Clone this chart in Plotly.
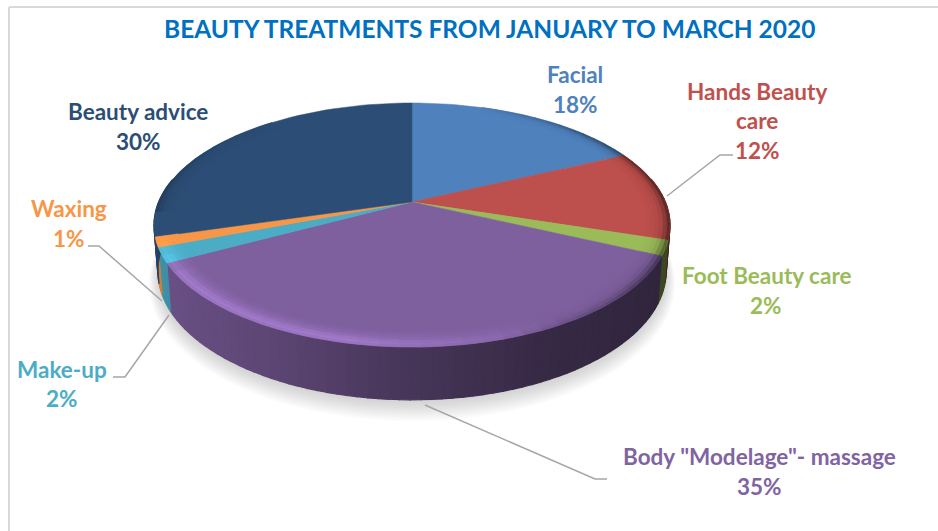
import math
import plotly.graph_objects as go

# ---- data ----
categories = ["Facial", "Hands Beauty care", "Foot Beauty care",
              'Body "Modelage"- massage', "Make-up", "Waxing", "Beauty advice"]
values = [18, 12, 2, 35.3, 2, 1.3, 29.6]
title_text = "BEAUTY TREATMENTS FROM JANUARY TO MARCH 2020"

# ---- styles ----
slice_colors = ["#4F81BD", "#BD4F4C", "#9BBB59", "#7F609F", "#4BACC6", "#F79646", "#2C4D75"]
label_colors = ["#4F81BD", "#C0504D", "#9BBB59", "#8064A2", "#4BACC6", "#F79646", "#2C4D75"]
label_lines = [["Facial"], ["Hands Beauty", "care"], ["Foot Beauty care"],
               ['Body "Modelage"- massage'], ["Make-up"], ["Waxing"], ["Beauty advice"]]
label_xy = [(575, 74, 30), (757, 91, 29.5), (766, 275, 30), (759, 456, 30),
            (62, 369, 29), (69, 208, 30), (138, 111, 30)]
leaders = [[(667, 196), (720, 155), (733, 155)],
           [(88, 246), (99, 246), (162, 301)],
           [(113, 377), (125, 377), (169, 315)],
           [(425, 405), (595, 479), (607, 479)]]

# ---- projection of the tilted pie ----
CX, CY, K, A, B = 412, 202, 0.1885, 253.4, 117.7
BOT_Y, BOT_A, BOT_B = 247, 0.985 * A, 124


def top(theta, r=1.0):
    u, v = r * math.sin(theta), r * math.cos(theta)
    d = 1 + K * v
    return CX + A * u / d, CY - B * v / d


def bottom(theta, grow=0.0, dy=0.0):
    u, v = math.sin(theta), math.cos(theta)
    d = 1 + K * v
    return CX + (BOT_A + grow) * u / d, BOT_Y + dy - (BOT_B + grow) * v / d


def hex2rgb(c):
    return [int(c[i:i + 2], 16) for i in (1, 3, 5)]


def shade(c, f):
    return "rgb(%d,%d,%d)" % tuple(max(0, min(255, round(x * f))) for x in hex2rgb(c))


def lerp_table(x, table):
    for (x0, y0), (x1, y1) in zip(table, table[1:]):
        if x <= x1:
            return y0 + (y1 - y0) * (x - x0) / (x1 - x0)
    return table[-1][1]


def side_factor(theta):
    return lerp_table(math.sin(theta), [(-1, .86), (-.5, .74), (0, .55), (.5, .42), (1, .38)])


def light_amount(theta):
    """Highlight strength along the front-left rim."""
    u, v = math.sin(theta), math.cos(theta)
    w = max(0.0, min(1.0, (-0.25 - v) / 0.3))
    return w * lerp_table(u, [(-1, .18), (-.8, .26), (-.2, .26), (.25, .1), (.5, 0), (1, 0)])


def dark_amount(theta):
    """Darkening at the extreme left and right of the rim."""
    u, v = math.sin(theta), math.cos(theta)
    right = lerp_table(u, [(-1, 0), (.3, 0), (.6, .25), (.85, .5), (1, .6)])
    left = lerp_table(u, [(-1, .22), (-.85, .08), (-.6, 0), (1, 0)])
    return right + (left if v > -0.1 else 0)


fig = go.Figure()


def poly(pts, color, opacity=1.0, line=0.7):
    xs = [p[0] for p in pts] + [pts[0][0]]
    ys = [p[1] for p in pts] + [pts[0][1]]
    fig.add_trace(go.Scatter(x=xs, y=ys, mode="lines", fill="toself", fillcolor=color,
                             line=dict(color=color, width=line), opacity=opacity,
                             hoverinfo="skip", showlegend=False))


# soft shadow under the pie
circle = [2 * math.pi * i / 180 for i in range(180)]
for step in range(12, 0, -1):
    poly([bottom(t, grow=step * 0.9 - 2, dy=2 + step * 0.7) for t in circle],
         "rgb(120,120,120)", opacity=0.03, line=0)

total = sum(values)
bounds = [0.0]
for val in values:
    bounds.append(bounds[-1] + val / total * 2 * math.pi)
spans = list(zip(bounds[:-1], bounds[1:]))

# side wall
STEP = math.radians(2)
for (a0, a1), col in zip(spans, slice_colors):
    n = max(1, math.ceil((a1 - a0) / STEP))
    for i in range(n):
        t0, t1 = a0 + (a1 - a0) * i / n, a0 + (a1 - a0) * (i + 1) / n
        tm = (t0 + t1) / 2
        if math.cos(tm) > 0.2:
            continue
        poly([top(t0), top(t1), bottom(t1), bottom(t0)], shade(col, side_factor(tm)), line=1.2)

# top faces
for (a0, a1), col in zip(spans, slice_colors):
    n = max(2, math.ceil((a1 - a0) / math.radians(2)))
    arc = [top(a0 + (a1 - a0) * i / n) for i in range(n + 1)]
    poly([(CX, CY)] + arc, col, line=0.5)

# soft bevel along the rim: (inner r, outer r, highlight weight, darkening weight)
BANDS = [(0.915, 0.93, .1, .02), (0.93, 0.945, .25, .05), (0.945, 0.96, .45, .1),
         (0.96, 0.975, .8, .2), (0.975, 0.99, 1.0, .45), (0.99, 1.0, .85, .8)]
for (a0, a1), col in zip(spans, slice_colors):
    n = max(1, math.ceil((a1 - a0) / math.radians(4)))
    for i in range(n):
        t0, t1 = a0 + (a1 - a0) * i / n, a0 + (a1 - a0) * (i + 1) / n
        tm = (t0 + t1) / 2
        li, da = light_amount(tm), dark_amount(tm)
        if li < 0.005 and da < 0.005:
            continue
        for r0, r1, wl, wd in BANDS:
            poly([top(t0, r0), top(t1, r0), top(t1, r1), top(t0, r1)],
                 shade(col, (1 + li * wl) * (1 - da * wd)), line=0.5)

# leader lines
for pts in leaders:
    fig.add_trace(go.Scatter(x=[p[0] for p in pts], y=[p[1] for p in pts], mode="lines",
                             line=dict(color="#A6A6A6", width=1.5),
                             hoverinfo="skip", showlegend=False))

# labels
FONT = "Lato"
annotations = [dict(x=489, y=28.5, text="<b>%s</b>" % title_text, showarrow=False,
                    font=dict(family=FONT, size=24.5, color="#0070C0"),
                    xref="x", yref="y", xanchor="center", yanchor="middle")]
for lines, val, (lx, ly, gap), col in zip(label_lines, values, label_xy, label_colors):
    for j, text in enumerate(lines + ["%d%%" % round(val)]):
        annotations.append(dict(x=lx, y=ly + j * gap, text="<b>%s</b>" % text, showarrow=False,
                                font=dict(family=FONT, size=22.5, color=col),
                                xref="x", yref="y", xanchor="center", yanchor="middle"))

frame = [dict(type="line", xref="x", yref="y", x0=9, x1=9, y0=7, y1=531,
              line=dict(color="#D9D9D9", width=2)),
         dict(type="line", xref="x", yref="y", x0=9, x1=938, y0=7, y1=7,
              line=dict(color="#D9D9D9", width=2))]

fig.update_layout(width=938, height=531, margin=dict(l=0, r=0, t=0, b=0),
                  paper_bgcolor="white", plot_bgcolor="white", showlegend=False,
                  xaxis=dict(range=[0, 938], visible=False, fixedrange=True),
                  yaxis=dict(range=[531, 0], visible=False, fixedrange=True),
                  annotations=annotations, shapes=frame)

fig.write_html("out.html", config=dict(displayModeBar=False),
               post_script="document.body.style.margin='0';document.body.style.overflow='hidden';")
